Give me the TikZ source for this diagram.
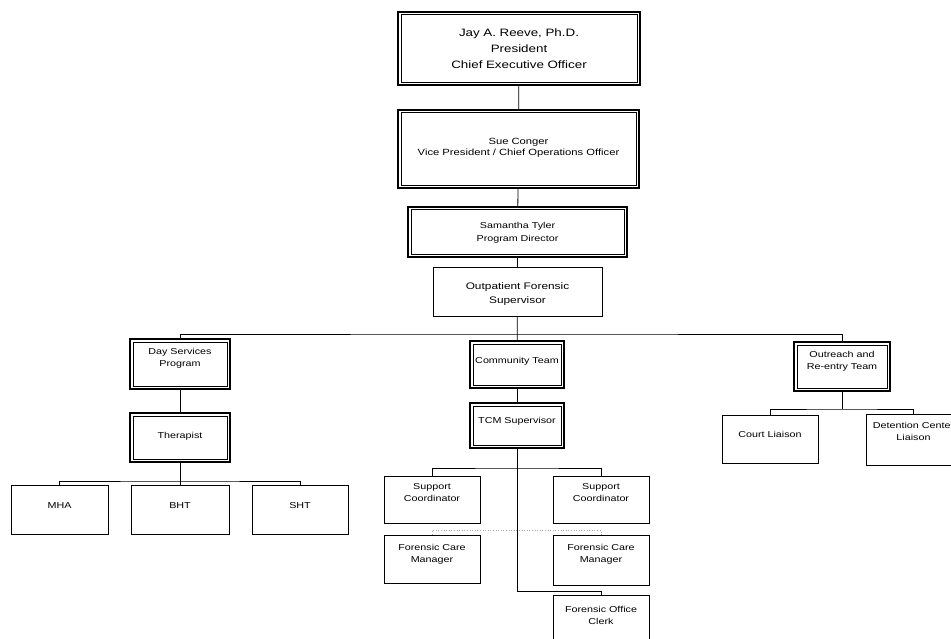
\documentclass[tikz,border=0pt]{standalone}
\usepackage{fontspec}
\newfontfamily\orgfont{Liberation Sans}[FakeStretch=1.25]
\newcommand\orgbig{\orgfont\fontsize{10.7pt}{16pt}\selectfont}
\newcommand\orgmid{\orgfont\fontsize{9.5pt}{14pt}\selectfont}
\newcommand\orgvp{\orgfont\fontsize{9pt}{11.5pt}\selectfont}
\newcommand\orgsmall{\orgfont\fontsize{8.6pt}{12.5pt}\selectfont}

\begin{document}
\begin{tikzpicture}[
  x=1pt, y=-1pt,
  post/.style={draw=black, line width=.7pt, inner xsep=2pt, inner ysep=0pt, align=center, font=\orgsmall},
  head/.style={post, line width=1.4pt,
    path picture={\draw[line width=.6pt] ([shift={(2.8,2.8)}]path picture bounding box.north west) rectangle ([shift={(-2.8,-2.8)}]path picture bounding box.south east);}},
  boxsize/.style n args={3}{text width=#1, text height=#2, text depth=#3},
  link/.style={draw=black, line width=.8pt},
  dotlink/.style={draw=gray!70, line width=.6pt, dotted}
]
  \useasboundingbox (0,0) rectangle (951,639);
  \clip (0,0) rectangle (951,639);

  % Direccion
  \node[head, boxsize={238pt}{25pt}{48pt}, font=\orgbig] (ceo) at (519,48.5) {Jay A. Reeve, Ph.D.\\President\\Chief Executive Officer};
  \node[head, boxsize={237pt}{34.5pt}{43.5pt}, font=\orgvp] (vp) at (518.5,149) {Sue Conger\\Vice President / Chief Operations Officer};
  \node[head, boxsize={215pt}{22pt}{28pt}] (pd) at (517.5,232) {Samantha Tyler\\Program Director};
  \node[post, boxsize={165pt}{23pt}{26pt}, font=\orgmid] (ofs) at (517.5,291.5) {Outpatient Forensic\\Supervisor};

  % Day services
  \node[head, boxsize={96pt}{15pt}{35pt}] (ds) at (180,364) {Day Services\\Program};
  \node[head, boxsize={96pt}{25pt}{24pt}] (th) at (180,437.5) {Therapist};
  \node[post, boxsize={93pt}{23pt}{26pt}] (mha) at (59.5,509.5) {MHA};
  \node[post, boxsize={94pt}{23pt}{26pt}] (bht) at (180,509.5) {BHT};
  \node[post, boxsize={92pt}{23pt}{26pt}] (sht) at (300,510) {SHT};

  % Community team
  \node[head, boxsize={90pt}{22pt}{25pt}] (ct) at (517,364.5) {Community Team};
  \node[head, boxsize={90pt}{20pt}{25pt}] (tcm) at (517,425.5) {TCM Supervisor};
  \node[post, boxsize={92pt}{13pt}{34pt}] (scA) at (432,499.5) {Support\\Coordinator};
  \node[post, boxsize={92pt}{13pt}{34pt}] (scB) at (601,499.5) {Support\\Coordinator};
  \node[post, boxsize={92pt}{15pt}{33pt}] (fcmA) at (432,559) {Forensic Care\\Manager};
  \node[post, boxsize={92pt}{15pt}{35pt}] (fcmB) at (601,560) {Forensic Care\\Manager};
  \node[post, boxsize={92pt}{17pt}{33pt}] (clerk) at (601,620) {Forensic Office\\Clerk};

  % Outreach
  \node[head, boxsize={92pt}{15pt}{34pt}] (out) at (842,366.5) {Outreach and\\Re-entry Team};
  \node[post, boxsize={92pt}{22pt}{26pt}] (cl) at (770,439) {Court Liaison};
  \node[post, boxsize={91pt}{14pt}{37pt}] (dc) at (913.5,439.5) {Detention Center\\Liaison};

  % Puntos de union
  \coordinate (bus) at (517,334);
  \coordinate (thbus) at (180,481);
  \coordinate (tcmbus) at (517,468);
  \coordinate (clerkbend) at (517,591);
  \coordinate (outbus) at (842,409);

  % Lineas
  \draw[link] (ceo) -- (vp);
  \draw[link] (vp) -- (pd);
  \draw[link] (pd) -- (ofs);
  \draw[link] (ofs) -- (ct);
  \draw[link] (ds.north) |- (bus) -| (out.north);
  \draw[link] (ds) -- (th);
  \draw[link] (th) -- (bht);
  \draw[link] (mha.north) |- (thbus) -| (sht.north);
  \draw[link] (ct) -- (tcm);
  \draw[link] (scA.north) |- (tcmbus) -| (scB.north);
  \draw[link] (tcm.south) -- (clerkbend) -| (clerk.north);
  \draw[dotlink] (fcmA.north) -- ++(0,-4) -| (fcmB.north);
  \draw[link] (out) -- (outbus);
  \draw[link] (cl.north) |- (outbus) -| (dc.north);
\end{tikzpicture}
\end{document}
